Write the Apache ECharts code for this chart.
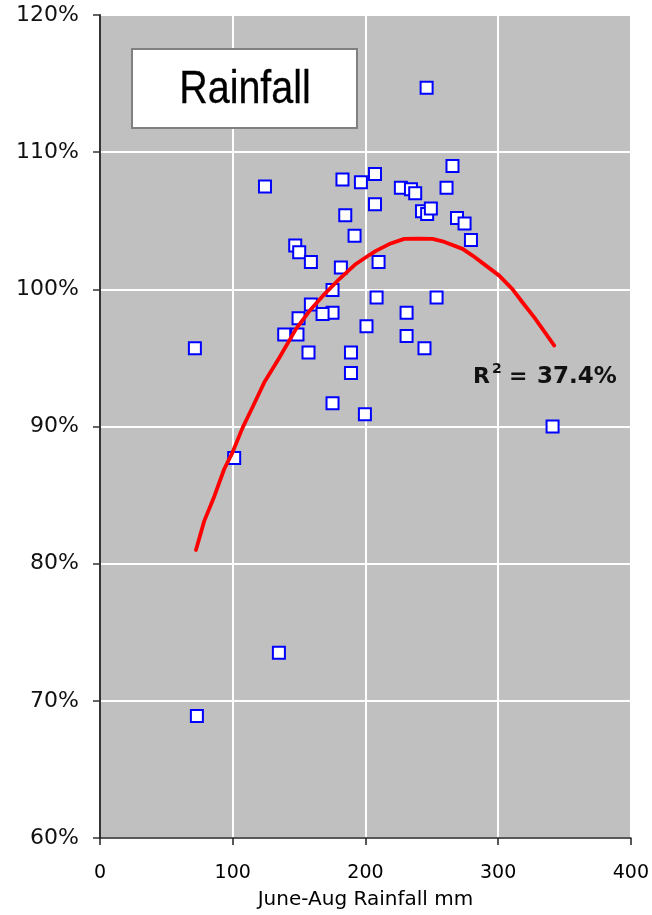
<!DOCTYPE html>
<html>
<head>
<meta charset="utf-8">
<script src="https://cdn.jsdelivr.net/npm/echarts@6/dist/echarts.min.js"></script>
<style>
  html, body { margin: 0; padding: 0; background: #ffffff; }
  #chart { width: 652px; height: 915px; }
</style>
</head>
<body>
<div id="chart"></div>
<script>
// June-August rainfall (mm) against yield relative to trend (%)
const rainfallMm = [
  124.3, 182.7, 184.8, 191.8, 147.1, 150.1, 158.9, 181.5, 175.2, 158.9,
  246.1, 265.6, 196.6, 207.2, 226.7, 234.3, 237.5, 261.1, 207.2, 242.6,
  246.5, 249.3, 269.0, 274.7, 279.5, 209.9, 208.4, 253.6, 175.2, 167.7,
  149.6, 231.0, 200.8, 138.8, 148.8, 231.0, 71.5, 157.1, 189.1, 244.5,
  189.1, 175.2, 199.6, 341.0, 101.1, 134.8, 73.0
];
const yieldPct = [
  107.5, 108.0, 105.4, 103.9, 103.2, 102.7, 102.0, 101.6, 99.95, 98.9,
  114.7, 109.0, 107.8, 108.4, 107.4, 107.3, 107.0, 107.4, 106.2, 105.7,
  105.5, 105.9, 105.2, 104.8, 103.6, 102.0, 99.4, 99.4, 98.3, 98.2,
  97.9, 98.3, 97.3, 96.7, 96.7, 96.6, 95.7, 95.4, 95.4, 95.7,
  93.9, 91.7, 90.9, 90.0, 87.7, 73.5, 68.9
];

// Quadratic trend line, sampled along its length
const trendX = [
  72.3, 78.5, 86.1, 93.6, 99.8, 107.4, 114.9, 123.7, 135.0, 147.6,
  157.6, 167.7, 180.3, 192.8, 202.9, 207.9, 217.9, 229.2, 240.0, 250.6,
  258.1, 273.2, 280.7, 290.8, 300.8, 310.9, 318.4, 327.2, 333.5, 342.3
];
const trendY = [
  81.0, 83.1, 84.9, 86.9, 88.1, 89.9, 91.4, 93.2, 95.0, 97.1,
  98.4, 99.5, 100.75, 101.85, 102.5, 102.8, 103.3, 103.68, 103.7, 103.68,
  103.5, 102.95, 102.46, 101.73, 101.0, 100.0, 99.04, 97.95, 97.1, 95.9
];

const xTicks = [0, 100, 200, 300, 400];
const yTicks = [60, 70, 80, 90, 100, 110, 120];
const rSquaredText = '37.4%';
const chartTitle = 'Rainfall';
const xAxisTitle = 'June-Aug Rainfall mm';

const points = rainfallMm.map((x, i) => [x, yieldPct[i]]);
const trend = trendX.map((x, i) => [x, trendY[i]]);

const chart = echarts.init(document.getElementById('chart'), null, { renderer: 'canvas' });

const tickFont = 'DejaVu Sans';
const boldLabel = { fontFamily: tickFont, fontWeight: 'bold', fill: '#111', verticalAlign: 'middle' };

chart.setOption({
  animation: false,
  backgroundColor: '#ffffff',
  grid: {
    left: 100, top: 15, width: 531, height: 823,
    show: true, backgroundColor: '#c0c0c0',
    borderColor: '#808080', borderWidth: 1
  },
  xAxis: {
    type: 'value',
    min: xTicks[0], max: xTicks[xTicks.length - 1], interval: 100,
    name: xAxisTitle, nameLocation: 'middle', nameGap: 52,
    nameTextStyle: { fontFamily: tickFont, fontSize: 20, color: '#000' },
    axisLine: { show: true, lineStyle: { color: '#222', width: 1.5 } },
    axisTick: { show: true, inside: false, length: 7, lineStyle: { color: '#222', width: 1.5 } },
    axisLabel: { margin: 26, fontFamily: tickFont, fontSize: 19, color: '#000' },
    splitLine: { show: true, lineStyle: { color: '#ffffff', width: 2 } }
  },
  yAxis: {
    type: 'value',
    min: yTicks[0], max: yTicks[yTicks.length - 1], interval: 10,
    axisLine: { show: true, lineStyle: { color: '#333', width: 2 } },
    axisTick: { show: true, inside: false, length: 7, lineStyle: { color: '#333', width: 1.5 } },
    axisLabel: { margin: 21, fontFamily: tickFont, fontSize: 22, color: '#111', formatter: '{value}%' },
    splitLine: { show: true, lineStyle: { color: '#ffffff', width: 2 } }
  },
  series: [
    {
      type: 'scatter',
      data: points,
      symbol: 'rect',
      symbolSize: 12,
      itemStyle: { color: '#ffffff', borderColor: '#0000ff', borderWidth: 2, opacity: 1 },
      z: 2
    },
    {
      type: 'line',
      data: trend,
      showSymbol: false,
      symbol: 'none',
      smooth: false,
      lineStyle: { color: '#ff0000', width: 3.8, cap: 'round', join: 'round' },
      z: 3
    }
  ],
  graphic: [
    {
      type: 'rect',
      shape: { x: 132, y: 49, width: 225, height: 79 },
      style: { fill: '#ffffff', stroke: '#808080', lineWidth: 2 },
      z: 10
    },
    {
      type: 'text',
      x: 245, y: 90,
      scaleX: 0.84,
      style: {
        text: chartTitle,
        fontFamily: 'Liberation Sans, sans-serif',
        fontSize: 47, fill: '#000',
        align: 'center', verticalAlign: 'middle',
        stroke: '#000', lineWidth: 0.3
      },
      z: 11
    },
    // R² annotation: base letter, raised exponent, then the value
    {
      type: 'text', x: 473, y: 377, z: 11,
      style: Object.assign({ text: 'R', fontSize: 22, align: 'left' }, boldLabel)
    },
    {
      type: 'text', x: 492, y: 369, z: 11,
      style: Object.assign({ text: '2', fontSize: 14, align: 'left' }, boldLabel)
    },
    {
      type: 'text', x: 509, y: 377, z: 11,
      style: Object.assign({ text: '=', fontSize: 22, align: 'left' }, boldLabel)
    },
    {
      type: 'text', x: 537, y: 377, z: 11,
      style: Object.assign({ text: rSquaredText, fontSize: 23, align: 'left' }, boldLabel)
    }
  ]
});
</script>
</body>
</html>
